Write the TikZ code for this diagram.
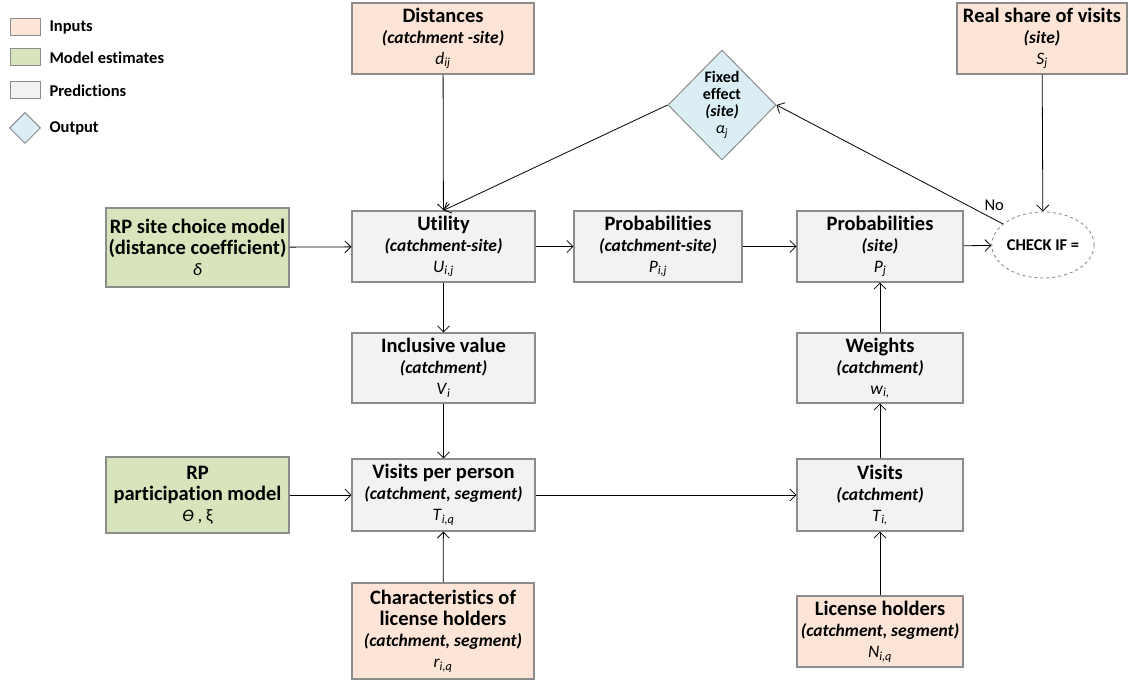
\documentclass[tikz,border=0pt]{standalone}
\usepackage{fontspec}
\setmainfont{Carlito}[Ligatures=NoCommon]
\usetikzlibrary{positioning,arrows.meta,shapes.geometric}
\definecolor{fdinput}{HTML}{FCE4D6}
\definecolor{fdmodel}{HTML}{D8E4BC}
\definecolor{fdpred}{HTML}{F2F2F2}
\definecolor{fdout}{HTML}{DAEEF3}
\definecolor{fdedge}{HTML}{8C8C8C}
\newcommand{\ttl}[1]{{\fontsize{20.5}{21}\selectfont\bfseries #1}}
\newcommand{\sbt}[1]{{\bfseries\itshape #1}}
\newcommand{\sym}[2]{\textit{#1}\textsubscript{\textit{#2}}}

\begin{document}
\begin{tikzpicture}[x=1pt, y=-1pt,
    every node/.style={font=\fontsize{17.5}{21}\selectfont},
    box/.style={draw=fdedge, line width=1.2pt, rectangle, align=center,
      inner sep=1pt, minimum width=#1},
    box/.default=183,
    inbox/.style={box=#1, fill=fdinput},
    inbox/.default=183,
    estbox/.style={box=#1, fill=fdmodel},
    estbox/.default=183,
    predbox/.style={box=#1, fill=fdpred},
    predbox/.default=183,
    flow/.style={line width=0.8pt, -{Straight Barb[length=6pt,width=12pt]}},
    legbox/.style={draw=fdedge, line width=1pt, minimum width=30, minimum height=17, inner sep=0pt},
    legtext/.style={anchor=west, font=\fontsize{16.5}{18}\selectfont\bfseries}]
  \useasboundingbox (0,0) rectangle (1134,684);

  % legend
  \node[legbox, fill=fdinput] (leginput) at (25,27.5) {};
  \node[legbox, fill=fdmodel] (legmodel) at (25,57.5) {};
  \node[legbox, fill=fdpred] (legpred) at (25,90.5) {};
  \node[draw=fdedge, line width=1pt, fill=fdout, diamond, minimum size=31, inner sep=0pt] (legout) at (25,128) {};
  \node[legtext] at (46,27.5) {Inputs};
  \node[legtext] at (46,57.5) {Model estimates};
  \node[legtext] at (46,90.5) {Predictions};
  \node[legtext] at (46,128) {Output};

  % inputs
  \node[inbox=182, minimum height=71] (dist) at (443,38.5)
    {\ttl{Distances}\\\sbt{(catchment -site)}\\\sym{d}{ij}};
  \node[inbox=170, minimum height=71] (share) at (1042,38.5)
    {\ttl{Real share of visits}\\\sbt{(site)}\\\sym{S}{j}};
  \node[inbox=182, minimum height=96] (chars) at (443,631)
    {\ttl{Characteristics of}\\\ttl{license holders}\\\sbt{(catchment, segment)}\\\sym{r}{i,q}};
  \node[inbox=166, minimum height=71] (lic) at (880,631.5)
    {\ttl{License holders}\\\sbt{(catchment, segment)}\\\sym{N}{i,q}};

  % model estimates
  \node[estbox, minimum height=79] (rpsite) at (197.5,247.5)
    {\ttl{RP site choice model}\\\ttl{(distance coefficient)}\\\textit{δ}};
  \node[estbox, minimum height=76] (rppart) at (197.5,495)
    {\ttl{RP}\\\ttl{participation model}\\\textit{ϴ} , ξ};

  % predictions
  \node[predbox, minimum height=71] (util) at (443.5,246.5)
    {\ttl{Utility}\\\sbt{(catchment-site)}\\\sym{U}{i,j}};
  \node[predbox=168, minimum height=71] (probcs) at (658,246.5)
    {\ttl{Probabilities}\\\sbt{(catchment-site)}\\\sym{P}{i,j}};
  \node[predbox=166, minimum height=71] (probs) at (880,246.5)
    {\ttl{Probabilities}\\\sbt{(site)}\\\sym{P}{j}};
  \node[predbox, minimum height=70] (incl) at (443.5,368)
    {\ttl{Inclusive value}\\\sbt{(catchment)}\\\sym{V}{i}};
  \node[predbox=166, minimum height=70] (weights) at (880,368)
    {\ttl{Weights}\\\sbt{(catchment)}\\\sym{w}{i,}};
  \node[predbox, minimum height=72] (vpp) at (443.5,495)
    {\ttl{Visits per person}\\\sbt{(catchment, segment)}\\\sym{T}{i,q}};
  \node[predbox=166, minimum height=72] (visits) at (880,495)
    {\ttl{Visits}\\\sbt{(catchment)}\\\sym{T}{i,}};

  % output and check
  \node[diamond, draw=fdedge, line width=1pt, fill=fdout, minimum width=108, minimum height=110,
    inner sep=-6pt, align=center, font=\fontsize{16}{17}\selectfont] (fixed) at (722,105)
    {\textbf{Fixed}\\\textbf{effect}\\\sbt{(site)}\\\sym{α}{j}};
  \node[ellipse, draw=fdedge, dashed, line width=0.9pt, minimum width=100, minimum height=66,
    inner sep=0pt, font=\fontsize{16.5}{18}\selectfont\bfseries] (check) at (1043,245) {CHECK IF =};

  \draw[flow] (dist) -- (util);
  \draw[flow] (fixed.west) -- (util.north);
  \draw[flow] (rpsite) -- (util);
  \draw[flow] (util) -- (probcs);
  \draw[flow] (probcs) -- (probs);
  \draw[flow] (probs) -- (check);
  \draw[flow] (share) -- (check);
  \draw[flow] (check) -- node[pos=0.08, above right=0pt and -4pt, font=\fontsize{16.5}{18}\selectfont] {No} (fixed.east);
  \draw[flow] (util) -- (incl);
  \draw[flow] (incl) -- (vpp);
  \draw[flow] (rppart) -- (vpp);
  \draw[flow] (chars) -- (vpp);
  \draw[flow] (vpp) -- (visits);
  \draw[flow] (lic) -- (visits);
  \draw[flow] (visits) -- (weights);
  \draw[flow] (weights) -- (probs);
\end{tikzpicture}
\end{document}
